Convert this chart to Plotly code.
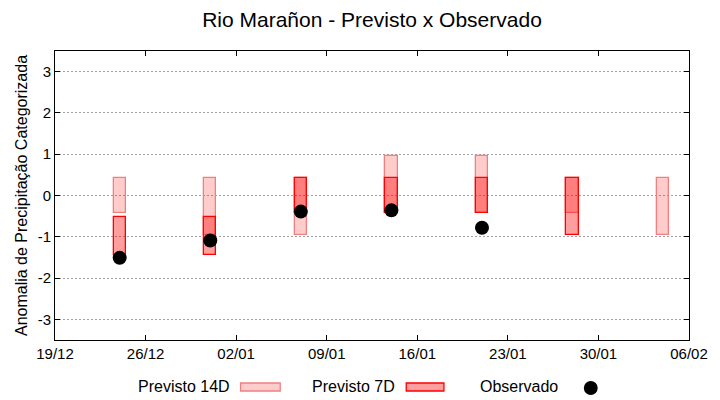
import plotly.graph_objects as go

# ---- data ----
dates = ["2023-12-24", "2023-12-31", "2024-01-07", "2024-01-14",
         "2024-01-21", "2024-01-28", "2024-02-04"]
p14_top = [0.43, 0.43, 0.43, 0.95, 0.95, 0.43, 0.43]
p14_bot = [-0.43, -0.95, -0.95, -0.43, -0.43, -0.43, -0.95]
p7_top = [-0.51, -0.51, 0.43, 0.43, 0.43, 0.43, None]
p7_bot = [-1.43, -1.43, -0.43, -0.43, -0.43, -0.95, None]
obs = [-1.51, -1.09, -0.39, -0.36, -0.78, None, None]
ytick_vals = [-3, -2, -1, 0, 1, 2, 3]

FONT = "Liberation Sans"
DAY = 86400000
BW = 0.95 * DAY

def heights(top, bot):
    return [None if t is None else t - b for t, b in zip(top, bot)]

fig = go.Figure()
fig.add_trace(go.Bar(
    x=dates, y=heights(p14_top, p14_bot), base=p14_bot, width=BW,
    marker=dict(color="rgba(255,0,0,0.2)", line=dict(color="#f08080", width=1.3)),
    name="Previsto 14D", hoverinfo="skip"))
fig.add_trace(go.Bar(
    x=dates, y=heights(p7_top, p7_bot), base=p7_bot, width=BW,
    marker=dict(color="rgba(255,0,0,0.38)", line=dict(color="#ff0000", width=1.3)),
    name="Previsto 7D", hoverinfo="skip"))
fig.add_trace(go.Scatter(
    x=dates, y=obs, mode="markers",
    marker=dict(color="black", size=14, symbol="circle"),
    name="Observado", hoverinfo="skip"))

L, R, T, B = 55, 26, 51, 60
W, H = 720, 400
pw, ph = W - L - R, H - T - B

def px(xp):
    return (xp - L) / pw

def py(yp):
    return (H - B - yp) / ph

fig.update_layout(
    width=W, height=H,
    margin=dict(l=L, r=R, t=T, b=B),
    paper_bgcolor="white", plot_bgcolor="white",
    barmode="overlay", bargap=0, showlegend=False,
    font=dict(family=FONT, color="black", size=15),
    title=dict(text="Rio Marañon - Previsto x Observado", x=0.5, xref="paper",
               y=1 - 20 / H, yref="container", yanchor="middle", xanchor="center",
               font=dict(size=21, family=FONT, color="black")),
    xaxis=dict(type="date", range=["2023-12-19", "2024-02-06"],
               tick0="2023-12-19", dtick=7 * DAY, tickformat="%d/%m",
               ticks="inside", ticklen=5, tickcolor="black",
               showline=True, linecolor="black", linewidth=1, mirror="allticks",
               showgrid=False, zeroline=False, tickfont=dict(size=15)),
    yaxis=dict(range=[-3.5, 3.5], tickvals=ytick_vals,
               ticktext=[str(v) for v in ytick_vals],
               ticks="inside", ticklen=5, tickcolor="black",
               showline=True, linecolor="black", linewidth=1, mirror="allticks",
               showgrid=True, gridcolor="#a0a0a0", gridwidth=1, griddash="2px,2px",
               zeroline=False, tickfont=dict(size=15),
               title=dict(text="Anomalia de Precipitação Categorizada",
                          font=dict(size=16), standoff=6)),
)

# ---- custom legend (text then swatch, like the reference) ----
leg_y = 386
items = [("Previsto 14D", 233, (242, 282), "rgba(255,0,0,0.2)", "#f08080"),
         ("Previsto 7D", 400, (409, 447), "rgba(255,0,0,0.38)", "#ff0000")]
for text, xr, (x0, x1), fc, lc in items:
    fig.add_annotation(text=text, x=px(xr), y=py(leg_y), xref="paper", yref="paper",
                       xanchor="right", yanchor="middle", showarrow=False,
                       font=dict(size=16, family=FONT, color="black"))
    fig.add_shape(type="rect", xref="paper", yref="paper",
                  x0=px(x0), x1=px(x1), y0=py(leg_y + 5), y1=py(leg_y - 3),
                  fillcolor=fc, line=dict(color=lc, width=1.3))
fig.add_annotation(text="Observado", x=px(564), y=py(leg_y), xref="paper", yref="paper",
                   xanchor="right", yanchor="middle", showarrow=False,
                   font=dict(size=16, family=FONT, color="black"))
fig.add_shape(type="circle", xref="paper", yref="paper",
              x0=px(588), x1=px(602), y0=py(395), y1=py(381),
              fillcolor="black", line=dict(color="black", width=0))

fig.write_html("out.html", config={"displayModeBar": False},
               post_script="document.body.style.margin='0';document.body.style.overflow='hidden';")
